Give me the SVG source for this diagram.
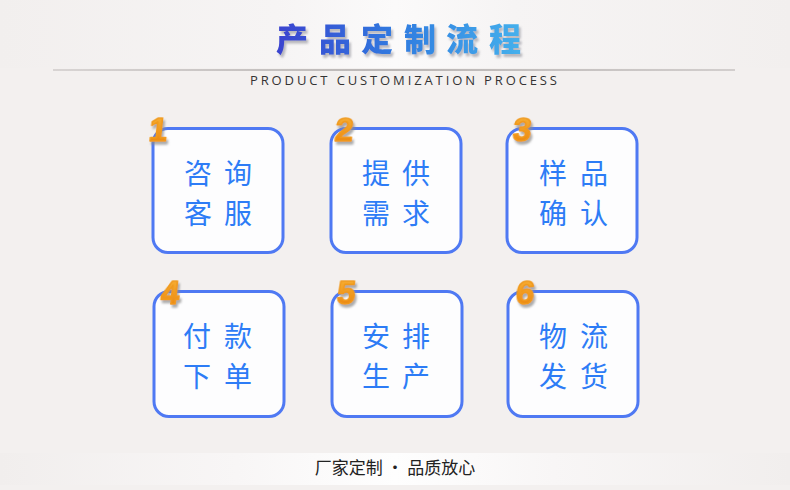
<svg xmlns="http://www.w3.org/2000/svg" width="790" height="490" viewBox="0 0 790 490">
  <defs>
    <linearGradient id="topband" x1="0" y1="0" x2="1" y2="0">
      <stop offset="0" stop-color="#f2efee"/>
      <stop offset="0.35" stop-color="#f6f4f4"/>
      <stop offset="0.5" stop-color="#fbfafa"/>
      <stop offset="0.65" stop-color="#f6f4f4"/>
      <stop offset="1" stop-color="#f2efee"/>
    </linearGradient>
    <linearGradient id="footband" x1="0" y1="0" x2="1" y2="0">
      <stop offset="0" stop-color="#f1eeed"/>
      <stop offset="0.3" stop-color="#f8f6f6"/>
      <stop offset="0.5" stop-color="#fefefe"/>
      <stop offset="0.7" stop-color="#f8f6f6"/>
      <stop offset="1" stop-color="#f1eeed"/>
    </linearGradient>
    <linearGradient id="rule" x1="0" y1="0" x2="1" y2="0">
      <stop offset="0" stop-color="#d8d4d3"/>
      <stop offset="0.5" stop-color="#b9b5b4"/>
      <stop offset="1" stop-color="#d2cecd"/>
    </linearGradient>
    <linearGradient id="titlegrad" x1="0" y1="0" x2="1" y2="0">
      <stop offset="0" stop-color="#3b43cf"/>
      <stop offset="0.5" stop-color="#2f7ce0"/>
      <stop offset="1" stop-color="#45b0ec"/>
    </linearGradient>
    <linearGradient id="numgrad" x1="0" y1="0" x2="0" y2="1">
      <stop offset="0" stop-color="#f9b53a"/>
      <stop offset="1" stop-color="#e9810b"/>
    </linearGradient>
    <filter id="tshadow" x="-10%" y="-20%" width="130%" height="160%">
      <feGaussianBlur in="SourceAlpha" stdDeviation="1.2"/>
      <feOffset dx="2" dy="3" result="b"/>
      <feFlood flood-color="#7a7a86" flood-opacity="0.5"/>
      <feComposite in2="b" operator="in"/>
      <feMerge><feMergeNode/><feMergeNode in="SourceGraphic"/></feMerge>
    </filter>
    <filter id="nshadow" x="-30%" y="-20%" width="180%" height="160%">
      <feGaussianBlur in="SourceAlpha" stdDeviation="0.8"/>
      <feOffset dx="2" dy="3" result="b"/>
      <feFlood flood-color="#8a8a8a" flood-opacity="0.7"/>
      <feComposite in2="b" operator="in"/>
      <feMerge><feMergeNode/><feMergeNode in="SourceGraphic"/></feMerge>
    </filter>
  </defs>
  <style>
    .box { fill: #fdfdfe; stroke: #4f79f3; stroke-width: 3; }
    .lbl { font-family: "Noto Sans CJK SC", "Noto Sans", sans-serif; font-size: 28px; fill: #2d7cf6; text-anchor: middle; }
    .num { font-family: "Liberation Sans", Arial, sans-serif; font-size: 33px; font-weight: bold; fill: url(#numgrad); stroke: #f09a1e; stroke-width: 1.6; stroke-linejoin: round; filter: url(#nshadow); }
  </style>

  <rect x="0" y="0" width="790" height="490" fill="#f3f0ef"/>
  <rect x="0" y="0" width="790" height="68" fill="url(#topband)"/>
  <rect x="53" y="69" width="682" height="2" fill="url(#rule)"/>
  <rect x="0" y="453" width="790" height="32" fill="url(#footband)"/>

  <g id="title">
    <text x="292 335 377 420 462 505" y="51" text-anchor="middle" font-family="Noto Sans CJK SC, sans-serif" font-size="32" font-weight="900" fill="url(#titlegrad)" filter="url(#tshadow)">产品定制流程</text>
    <text x="250" y="85" textLength="307" lengthAdjust="spacing" font-family="Open Sans, Liberation Sans, sans-serif" font-size="13" fill="#333333">PRODUCT CUSTOMIZATION PROCESS</text>
  </g>

  <g id="node1">
    <rect class="box" x="153" y="128.5" width="130" height="124" rx="15"/>
    <text class="lbl" x="198 238" y="184">咨询</text>
    <text class="lbl" x="198 238" y="224">客服</text>
    <text class="num" transform="translate(148 141) skewX(-6)">1</text>
  </g>
  <g id="node2">
    <rect class="box" x="331" y="128.5" width="130" height="124" rx="15"/>
    <text class="lbl" x="376 416" y="184">提供</text>
    <text class="lbl" x="376 416" y="224">需求</text>
    <text class="num" transform="translate(334 141) skewX(-6)">2</text>
  </g>
  <g id="node3">
    <rect class="box" x="507" y="128.5" width="130" height="124" rx="15"/>
    <text class="lbl" x="553 594" y="184">样品</text>
    <text class="lbl" x="553 594" y="224">确认</text>
    <text class="num" transform="translate(512 141) skewX(-6)">3</text>
  </g>
  <g id="node4">
    <rect class="box" x="154" y="291.5" width="130" height="125" rx="15"/>
    <text class="lbl" x="197 238" y="347">付款</text>
    <text class="lbl" x="197 238" y="387">下单</text>
    <text class="num" transform="translate(160 304) skewX(-6)">4</text>
  </g>
  <g id="node5">
    <rect class="box" x="332" y="291.5" width="130" height="125" rx="15"/>
    <text class="lbl" x="376 416" y="347">安排</text>
    <text class="lbl" x="376 416" y="387">生产</text>
    <text class="num" transform="translate(336 304) skewX(-6)">5</text>
  </g>
  <g id="node6">
    <rect class="box" x="508" y="291.5" width="130" height="125" rx="15"/>
    <text class="lbl" x="553 594" y="347">物流</text>
    <text class="lbl" x="553 594" y="387">发货</text>
    <text class="num" transform="translate(515 304) skewX(-6)">6</text>
  </g>

  <g id="connectors"/>

  <g id="footer">
    <text x="395" y="474" text-anchor="middle" font-family="Noto Sans CJK SC, sans-serif" font-size="17" fill="#222222">厂家定制 · 品质放心</text>
  </g>
</svg>
